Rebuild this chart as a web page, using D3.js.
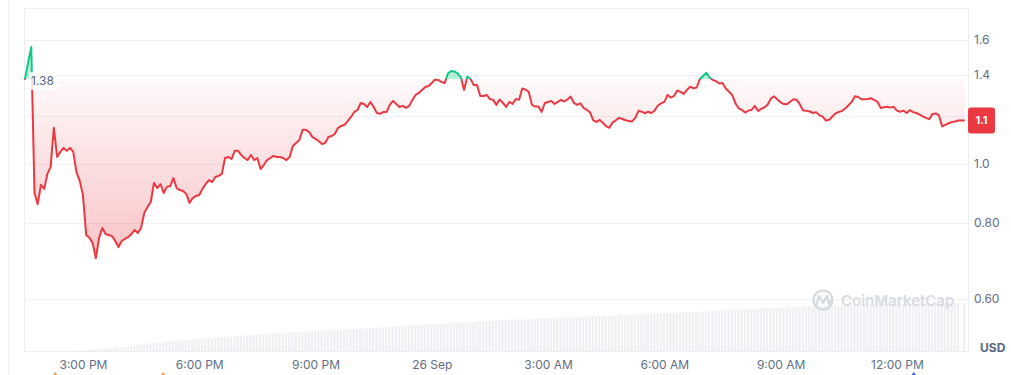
<!DOCTYPE html>
<html>
<head>
<meta charset="utf-8">
<script src="https://cdn.jsdelivr.net/npm/d3@7"></script>
<style>
  body { margin: 0; background: #fff; }
  svg { display: block; font-family: Inter, "Noto Sans", sans-serif; }
</style>
</head>
<body>
<div id="chart"></div>
<script>
// price samples every 5 minutes starting 25 Sep 13:30
const startTime = new Date(2023, 8, 25, 13, 30);
const stepMinutes = 5;
const prices = [
  1.375,1.466,1.558,0.896,0.859,0.924,0.910,0.963,0.989,1.147,
  1.027,1.047,1.063,1.051,1.063,1.047,0.970,0.938,0.889,0.764,
  0.756,0.741,0.700,0.756,0.785,0.767,0.764,0.761,0.747,0.730,
  0.747,0.753,0.758,0.767,0.779,0.770,0.785,0.831,0.850,0.866,
  0.931,0.913,0.927,0.896,0.917,0.920,0.948,0.913,0.906,0.903,
  0.893,0.863,0.879,0.886,0.889,0.910,0.927,0.941,0.934,0.952,
  0.956,0.963,1.023,1.027,1.019,1.051,1.051,1.035,1.023,1.015,
  1.035,1.015,1.023,0.981,0.996,1.015,1.023,1.031,1.027,1.027,
  1.023,1.015,1.027,1.071,1.083,1.095,1.138,1.138,1.129,1.108,
  1.100,1.091,1.079,1.083,1.108,1.112,1.121,1.147,1.155,1.160,
  1.177,1.195,1.218,1.227,1.260,1.255,1.241,1.265,1.241,1.213,
  1.209,1.218,1.218,1.251,1.270,1.255,1.241,1.246,1.237,1.246,
  1.275,1.299,1.309,1.324,1.339,1.344,1.359,1.377,1.375,1.364,
  1.359,1.409,1.422,1.420,1.409,1.390,1.324,1.393,1.380,1.349,
  1.349,1.294,1.294,1.299,1.279,1.275,1.251,1.277,1.260,1.241,
  1.265,1.255,1.279,1.275,1.331,1.326,1.314,1.251,1.243,1.243,
  1.218,1.260,1.265,1.270,1.255,1.265,1.275,1.267,1.277,1.291,
  1.260,1.251,1.258,1.237,1.227,1.216,1.180,1.173,1.182,1.168,
  1.153,1.147,1.171,1.180,1.191,1.186,1.180,1.177,1.175,1.191,
  1.223,1.219,1.212,1.219,1.213,1.225,1.248,1.258,1.265,1.299,
  1.286,1.294,1.321,1.314,1.304,1.324,1.340,1.332,1.336,1.380,
  1.397,1.413,1.388,1.375,1.368,1.357,1.359,1.331,1.315,1.299,
  1.258,1.235,1.227,1.215,1.224,1.227,1.246,1.223,1.232,1.239,
  1.253,1.282,1.292,1.277,1.263,1.255,1.254,1.267,1.278,1.275,
  1.252,1.225,1.224,1.220,1.213,1.217,1.202,1.197,1.179,1.182,
  1.197,1.211,1.218,1.223,1.234,1.249,1.265,1.292,1.289,1.278,
  1.278,1.279,1.283,1.274,1.265,1.236,1.240,1.242,1.238,1.242,
  1.224,1.219,1.224,1.213,1.226,1.217,1.213,1.206,1.198,1.191,
  1.185,1.209,1.211,1.202,1.153,1.160,1.167,1.172,1.175,1.179,
  1.179,1.179
];
// 24h volume bars, same 5-minute steps
const volumes = [
  0,0,0,0,0,0,0,0,0,0,
  0,0,0,0,0,0,0,0.3,0.8,1.1,
  1.4,1.6,1.8,2.0,2.3,2.6,2.8,3.1,3.4,3.7,
  4.0,4.3,4.6,5.0,5.5,6.0,6.5,7.0,7.4,7.8,
  8.2,8.5,8.8,9.1,9.4,9.6,9.9,10.2,10.4,10.7,
  11.0,11.3,11.6,11.8,12.0,12.2,12.5,12.8,13.0,13.3,
  13.5,13.8,14.0,14.3,14.6,14.8,15.1,15.3,15.6,15.8,
  16.0,16.2,16.5,16.7,16.9,17.1,17.3,17.5,17.7,17.9,
  18.1,18.3,18.5,18.8,19.0,19.2,19.4,19.5,19.7,19.8,
  20.0,20.1,20.3,20.4,20.6,20.8,20.9,21.1,21.2,21.4,
  21.6,21.8,22.0,22.2,22.4,22.6,22.8,23.0,23.2,23.4,
  23.6,23.8,24.0,24.2,24.4,24.7,24.9,25.1,25.3,25.5,
  25.7,25.9,26.1,26.3,26.5,26.7,26.8,27.0,27.2,27.4,
  27.5,27.6,27.8,28.0,28.2,28.4,28.6,28.8,29.0,29.2,
  29.4,29.6,29.8,30.0,30.2,30.4,30.6,30.9,31.0,31.1,
  31.2,31.3,31.4,31.5,31.6,31.7,31.8,31.9,32.0,32.2,
  32.3,32.4,32.5,32.7,32.8,33.0,33.1,33.3,33.4,33.6,
  33.7,33.9,34.0,34.2,34.3,34.5,34.6,34.8,35.0,35.1,
  35.2,35.4,35.5,35.6,35.8,35.9,36.0,36.1,36.3,36.4,
  36.5,36.7,36.8,36.9,37.0,37.2,37.3,37.5,37.6,37.8,
  37.9,38.1,38.2,38.4,38.5,38.7,38.8,39.0,39.1,39.3,
  39.5,39.7,39.8,40.0,40.2,40.4,40.5,40.7,40.9,41.0,
  41.2,41.4,41.6,41.7,41.9,42.0,42.2,42.3,42.5,42.6,
  42.8,42.9,43.1,43.2,43.4,43.5,43.7,43.8,44.0,44.1,
  44.3,44.4,44.5,44.6,44.7,44.8,44.9,45.0,45.1,45.1,
  45.2,45.3,45.4,45.5,45.6,45.7,45.7,45.8,45.9,46.0,
  46.1,46.1,46.2,46.3,46.4,46.5,46.5,46.6,46.7,46.8,
  46.9,47.0,47.0,47.0,47.1,47.1,47.2,47.2,47.3,47.3,
  47.4,47.4,47.4,47.5,47.5,47.5,47.6,47.6,47.7,47.7,
  0,48.0
];
const basePrice = 1.38;
const yTickValues = [0.6, 0.8, 1.0, 1.2, 1.4, 1.6];
const yTickLabels = ["0.60", "0.80", "1.0", "1.2", "1.4", "1.6"];
const lastPriceLabel = "1.1";
const eventTimes = [new Date(2023, 8, 25, 14, 17), new Date(2023, 8, 25, 17, 4), new Date(2023, 8, 26, 12, 26)];
const eventColors = ["#f7a14c", "#f7a14c", "#3861fb"];

const width = 1011, height = 375;
const plot = { left: 24, right: 968, top: 8, bottom: 351 };
const red = "#ea3943", green = "#16c784", axisText = "#616e85";

const data = prices.map((p, i) => ({
  t: d3.timeMinute.offset(startTime, i * stepMinutes),
  p: p,
  v: volumes[i]
}));

const svg = d3.select("#chart").append("svg")
  .attr("width", width)
  .attr("height", height);

// scales
const xScale = d3.scaleTime()
  .domain([startTime, new Date(2023, 8, 26, 13, 50)])
  .range([24.8, plot.right]);
const yScale = d3.scaleLog()
  .domain([0.4925, 1.8055])
  .range([plot.bottom, plot.top]);
const vScale = d3.scaleLinear()
  .domain([0, 50])
  .range([plot.bottom, plot.bottom - 50]);

const baseY = yScale(basePrice);
const lastY = yScale(prices[prices.length - 1]);

// frame lines
svg.append("line")
  .attr("x1", 8.5).attr("x2", 8.5).attr("y1", 0).attr("y2", height)
  .attr("stroke", "#eff2f5");
svg.append("rect")
  .attr("x", plot.left + 0.5).attr("y", plot.top + 0.5)
  .attr("width", plot.right - plot.left).attr("height", plot.bottom - plot.top)
  .attr("fill", "none").attr("stroke", "#eceef1");

// grid
svg.append("g").selectAll("line")
  .data(yTickValues)
  .enter().append("line")
  .attr("x1", plot.left).attr("x2", plot.right)
  .attr("y1", d => Math.round(yScale(d)) + 0.5)
  .attr("y2", d => Math.round(yScale(d)) + 0.5)
  .attr("stroke", "#eff1f4");

// volume bars
const barW = xScale(d3.timeMinute.offset(startTime, stepMinutes)) - xScale(startTime);
svg.append("g").selectAll("rect")
  .data(data.filter(d => d.v > 0))
  .enter().append("rect")
  .attr("x", d => xScale(d.t) - barW / 2)
  .attr("y", d => vScale(d.v))
  .attr("width", barW - 0.9)
  .attr("height", d => plot.bottom - vScale(d.v))
  .attr("fill", "#eef0f3");

// watermark
const wm = svg.append("g").attr("opacity", 0.9);
wm.append("circle")
  .attr("cx", 823).attr("cy", 300).attr("r", 9.5)
  .attr("fill", "none").attr("stroke", "#cfd5de").attr("stroke-width", 2.2);
wm.append("path")
  .attr("d", "M816,306 L819,296 L823,303 L827,296 L829,304 L831,300")
  .attr("fill", "none").attr("stroke", "#cfd5de").attr("stroke-width", 2.2)
  .attr("stroke-linejoin", "round").attr("stroke-linecap", "round");
wm.append("text")
  .attr("x", 841).attr("y", 306)
  .attr("font-size", 15).attr("font-weight", 600)
  .attr("fill", "#d3d8e0")
  .text("CoinMarketCap");

// gradients and clips
const defs = svg.append("defs");
const redGrad = defs.append("linearGradient")
  .attr("id", "redGrad").attr("gradientUnits", "userSpaceOnUse")
  .attr("x1", 0).attr("x2", 0).attr("y1", baseY).attr("y2", yScale(0.7));
redGrad.append("stop").attr("offset", 0).attr("stop-color", red).attr("stop-opacity", 0.03);
redGrad.append("stop").attr("offset", 1).attr("stop-color", red).attr("stop-opacity", 0.3);
defs.append("clipPath").attr("id", "clipBelow")
  .append("rect").attr("x", 0).attr("y", baseY).attr("width", width).attr("height", height);
defs.append("clipPath").attr("id", "clipAbove")
  .append("rect").attr("x", 0).attr("y", 0).attr("width", width).attr("height", baseY);

const area = d3.area()
  .x(d => xScale(d.t))
  .y0(baseY)
  .y1(d => yScale(d.p));
const line = d3.line()
  .x(d => xScale(d.t))
  .y(d => yScale(d.p));

svg.append("path").datum(data)
  .attr("d", area).attr("fill", "url(#redGrad)")
  .attr("clip-path", "url(#clipBelow)");
svg.append("path").datum(data)
  .attr("d", area).attr("fill", green).attr("fill-opacity", 0.3)
  .attr("clip-path", "url(#clipAbove)");
svg.append("path").datum(data)
  .attr("d", line).attr("fill", "none").attr("stroke", red)
  .attr("stroke-width", 2).attr("stroke-linejoin", "round")
  .attr("clip-path", "url(#clipBelow)");
svg.append("path").datum(data)
  .attr("d", line).attr("fill", "none").attr("stroke", green)
  .attr("stroke-width", 2).attr("stroke-linejoin", "round")
  .attr("clip-path", "url(#clipAbove)");

// reference price label
svg.append("rect")
  .attr("x", 29).attr("y", baseY - 7).attr("width", 28).attr("height", 18).attr("rx", 3)
  .attr("fill", "#fff").attr("fill-opacity", 0.85);
svg.append("text")
  .attr("x", 31).attr("y", baseY + 2).attr("dy", "0.35em")
  .attr("font-size", 12).attr("fill", "#58667e")
  .text(basePrice.toFixed(2));

// y axis labels (the one under the last-price badge is hidden)
svg.append("g").selectAll("text")
  .data(yTickValues.filter(d => Math.abs(yScale(d) - lastY) > 16))
  .enter().append("text")
  .attr("x", 974)
  .attr("y", d => yScale(d))
  .attr("dy", "0.35em")
  .attr("font-size", 12)
  .attr("fill", axisText)
  .text(d => yTickLabels[yTickValues.indexOf(d)]);
svg.append("text")
  .attr("x", 980).attr("y", 348).attr("dy", "0.35em")
  .attr("font-size", 12).attr("font-weight", 700).attr("fill", "#58667e")
  .text("USD");

// last price badge
svg.append("rect")
  .attr("x", 968).attr("y", lastY - 13).attr("width", 27).attr("height", 26).attr("rx", 3)
  .attr("fill", red);
svg.append("text")
  .attr("x", 981.5).attr("y", lastY).attr("dy", "0.35em")
  .attr("text-anchor", "middle")
  .attr("font-size", 11).attr("font-weight", 700).attr("fill", "#fff")
  .text(lastPriceLabel);

// x axis
const fmtHour = d3.timeFormat("%-I:%M %p");
const fmtDay = d3.timeFormat("%-d %b");
const xAxis = d3.axisBottom(xScale)
  .ticks(d3.timeHour.every(3))
  .tickSize(0)
  .tickPadding(0)
  .tickFormat(d => d.getHours() === 0 ? fmtDay(d) : fmtHour(d));
const gx = svg.append("g")
  .attr("transform", "translate(0,360)")
  .call(xAxis);
gx.select(".domain").remove();
gx.selectAll("text")
  .attr("font-family", "Inter, 'Noto Sans', sans-serif")
  .attr("font-size", 12)
  .attr("fill", axisText);

// event markers (cut off at the bottom edge)
svg.append("g").selectAll("path")
  .data(eventTimes)
  .enter().append("path")
  .attr("d", d => {
    const x = xScale(d);
    return `M${x - 3},${height + 1} L${x},${height - 3} L${x + 3},${height + 1} Z`;
  })
  .attr("fill", (d, i) => eventColors[i]);
</script>
</body>
</html>
